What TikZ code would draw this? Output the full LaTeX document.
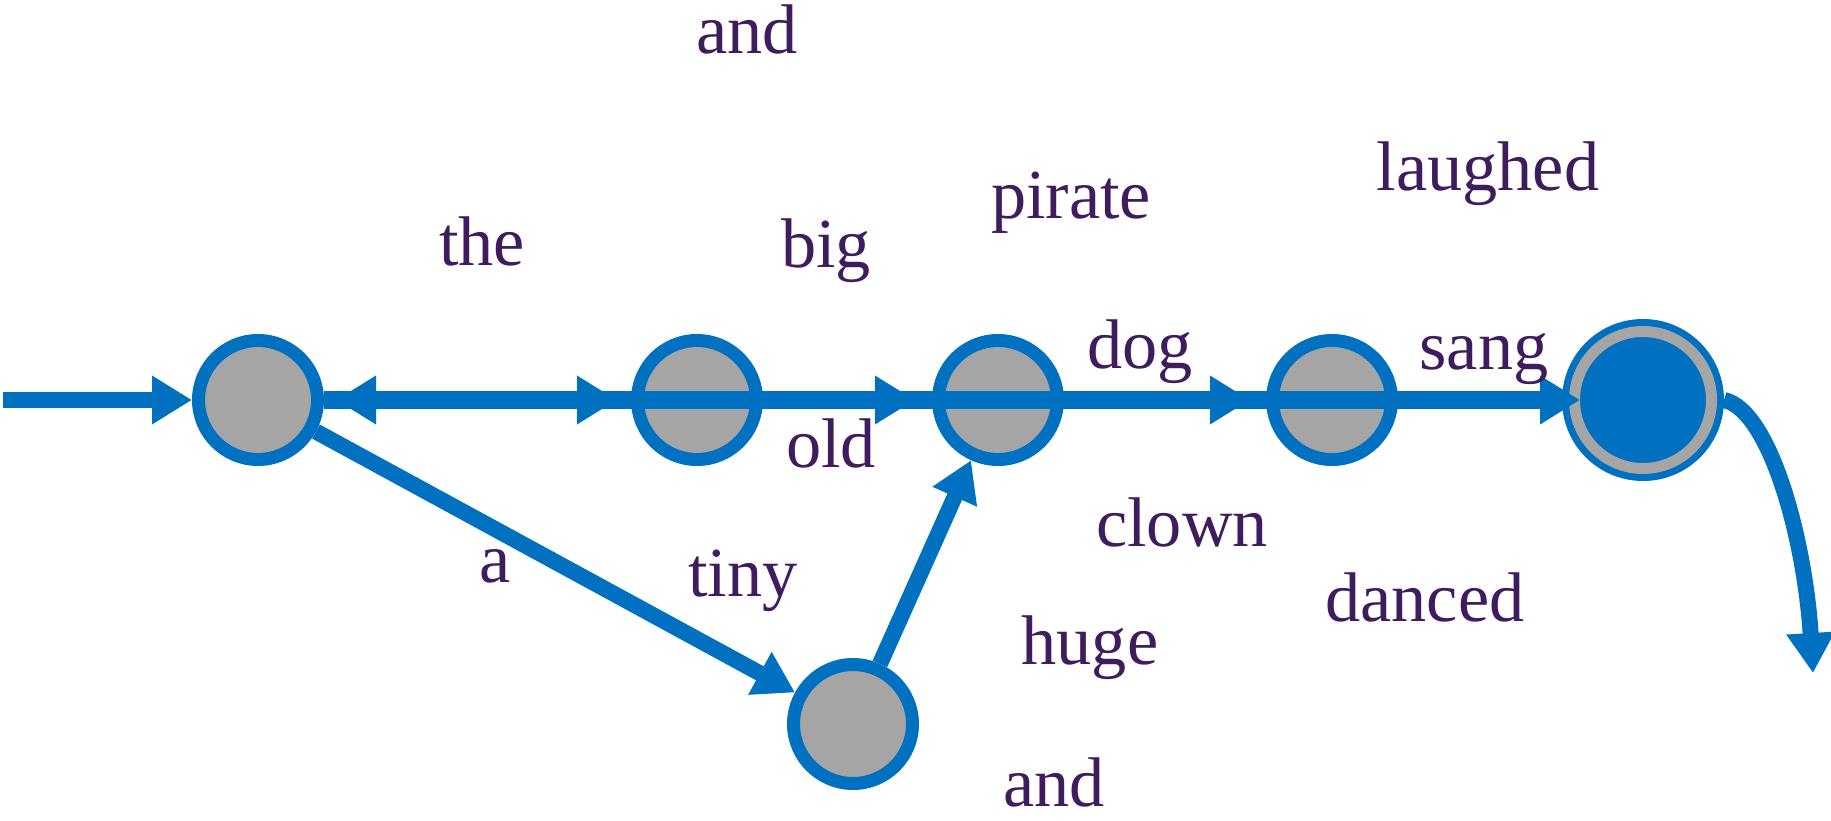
\documentclass[tikz,border=0pt]{standalone}
\usepackage{xcolor}
\usepackage{fontspec}
\setmainfont{Liberation Serif}
\usepackage{tikz}
\usetikzlibrary{arrows.meta,decorations.markings}
\definecolor{primary}{HTML}{0070C0}
\definecolor{estado}{HTML}{A5A5A5}
\definecolor{palabra}{HTML}{3F1C5E}

\begin{document}
\begin{tikzpicture}[
        estadobox/.style={circle, draw=primary, fill=estado, line width=0.26cm, minimum size=2.38cm, inner sep=0pt},
        finalbox/.style={circle, draw=primary, double=estado, double distance=0.22cm, line width=0.14cm, fill=primary, minimum size=2.74cm, inner sep=0pt, outer sep=0.25cm},
        arco/.style={draw=primary, line width=0.32cm, -{Triangle[length=0.8cm, width=0.92cm]}},
        linea/.style={draw=primary, line width=0.36cm},
        marca/.style={postaction={decorate, decoration={markings, mark=at position #1 with {\arrow{Triangle[length=0.8cm, width=0.92cm]}}}}},
        marcainv/.style={postaction={decorate, decoration={markings, mark=at position #1 with {\arrowreversed{Triangle[length=0.8cm, width=0.92cm]}}}}},
        palabrabox/.style={text=palabra, font=\fontsize{40}{48}\selectfont, anchor=base, inner sep=0pt}]
        \useasboundingbox (0,0) rectangle (36.62,-16.42);
        % Estados
        \node[estadobox] (q0) at (5.16,-8) {};
        \node[estadobox] (q1) at (13.94,-8) {};
        \node[estadobox] (q2) at (19.96,-8) {};
        \node[estadobox] (q3) at (26.64,-8) {};
        \node[finalbox] (q4) at (32.86,-8) {};
        \node[estadobox] (q5) at (17.06,-14.48) {};
        % Entrada y salida
        \coordinate (inicio) at (0.06,-8);
        \coordinate (fin) at (36.26,-13.46);
        \draw[arco] (inicio) -- (q0);
        \draw[arco] (q4.east) .. controls (35.4,-8.2) and (36.1,-10.8) .. (fin);
        % Arcos horizontales
        \draw[linea, marcainv=0.24cm, marca=-1.6cm] (q0) -- (q1.center);
        \draw[linea, marca=-1.66cm] (q1.center) -- (q2.center);
        \draw[linea, marca=-1.64cm] (q2.center) -- (q3.center);
        \draw[arco, line width=0.36cm, shorten >=-0.36cm] (q3.center) -- (q4);
        % Arcos diagonales
        \draw[arco] (q0) -- (q5);
        \draw[arco] (q5) -- (q2);
        % Palabras
        \node[palabrabox] (and1) at (14.94,-1.06) {and};
        \node[palabrabox] (the) at (9.64,-5.30) {the};
        \node[palabrabox] (big) at (16.52,-5.34) {big};
        \node[palabrabox] (pirate) at (21.42,-4.36) {pirate};
        \node[palabrabox] (laughed) at (29.76,-3.80) {laughed};
        \node[palabrabox] (dog) at (22.80,-7.36) {dog};
        \node[palabrabox] (sang) at (29.68,-7.38) {sang};
        \node[palabrabox] (old) at (16.62,-9.34) {old};
        \node[palabrabox] (clown) at (23.64,-10.92) {clown};
        \node[palabrabox] (a) at (9.90,-11.64) {a};
        \node[palabrabox] (tiny) at (14.86,-11.92) {tiny};
        \node[palabrabox] (danced) at (28.50,-12.42) {danced};
        \node[palabrabox] (huge) at (21.80,-13.28) {huge};
        \node[palabrabox] (and2) at (21.08,-16.12) {and};
    \end{tikzpicture}
\end{document}
